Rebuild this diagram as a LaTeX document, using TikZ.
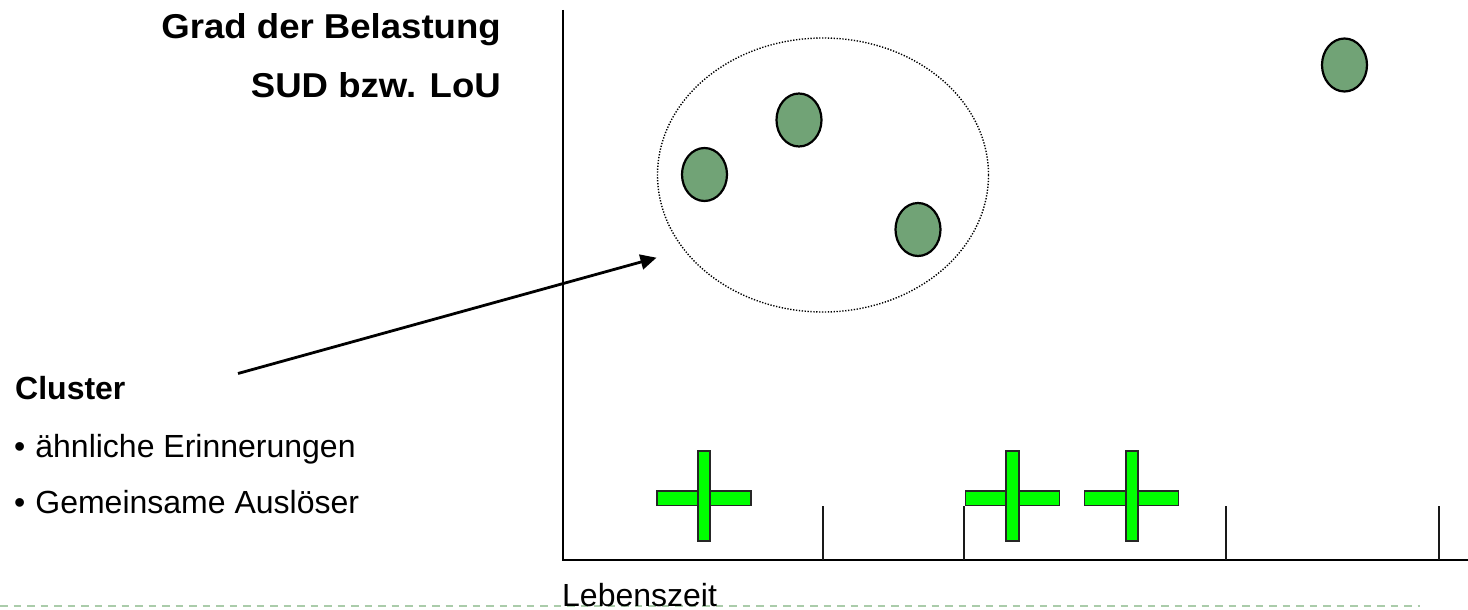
\documentclass[tikz,border=0pt]{standalone}
\usepackage{fontspec}
\setmainfont{Liberation Sans}
\usetikzlibrary{shapes.geometric,arrows.meta}

\definecolor{dotgreen}{RGB}{113,163,118}
\definecolor{crossgreen}{RGB}{0,255,0}
\definecolor{rulegreen}{RGB}{170,204,170}

\tikzset{
  txt/.style={inner sep=0pt, font=\fontsize{32}{38}\selectfont},
  boldtxt/.style={txt, font=\fontsize{32}{38}\selectfont\bfseries},
  headtxt/.style={inner sep=0pt, font=\fontsize{34.5}{40}\selectfont\bfseries},
  memory/.style={ellipse, draw=black, line width=2.2pt, fill=dotgreen,
    minimum width=45pt, minimum height=53pt, inner sep=0pt},
  hbar/.style={rectangle, draw=black!85, line width=1.8pt, fill=crossgreen,
    minimum width=94pt, minimum height=14.5pt, inner sep=0pt},
  vbar/.style={rectangle, draw=black!85, line width=1.8pt, fill=crossgreen,
    minimum width=12.5pt, minimum height=90pt, inner sep=0pt},
  axis/.style={line width=2.4pt, draw=black},
  tick/.style={line width=2.2pt, draw=black!90},
  group/.style={ellipse, draw=black, line width=1.4pt,
    dash pattern=on 1.3pt off 1.6pt, minimum width=331pt, minimum height=274pt,
    inner sep=0pt},
  pointer/.style={line width=2.8pt, -{Triangle[length=16pt,width=15pt]}},
  footrule/.style={line width=2.4pt, draw=rulegreen, dash pattern=on 7.5pt off 6pt},
}

\begin{document}
\begin{tikzpicture}[x=1pt,y=-1pt]
\useasboundingbox (0,0) rectangle (1468,610);

% footer rule and axis label
\coordinate (ruleL) at (0,606);
\coordinate (ruleR) at (1420,606);
\draw[footrule] (ruleL) -- (ruleR);

% axes
\coordinate (top) at (563,10);
\coordinate (origin) at (563,560);
\coordinate (right) at (1468,560);
\draw[axis] (top) -- (origin) -- (right);

% ticks on the time axis
\foreach \tx [count=\i] in {823,964,1226,1439}{
  \coordinate (tickTop\i) at (\tx,506);
  \coordinate (tickBot\i) at (\tx,560);
  \draw[tick] (tickTop\i) -- (tickBot\i);
}

% headings
\node[headtxt, anchor=base east] (belastung) at (501,39)
  {\scalebox{1.06}[1]{Grad der Belastung}};
\node[headtxt, anchor=base east] (sud) at (501,98)
  {\scalebox{1.06}[1]{SUD bzw. LoU}};

% cluster description
\node[boldtxt, anchor=base west] (cluster) at (15,399) {Cluster};
\node[txt, anchor=base west] (item1) at (14,457) {•\hspace{10pt}ähnliche Erinnerungen};
\node[txt, anchor=base west] (item2) at (14,513) {•\hspace{10pt}Gemeinsame Auslöser};

\node[txt, anchor=base west] (lebenszeit) at (562,606) {Lebenszeit};

% group of similar memories
\node[group] (groupring) at (823,175) {};
\node[memory] (m1) at (704.5,174.5) {};
\node[memory] (m2) at (799,120) {};
\node[memory] (m3) at (918,229.5) {};
\node[memory] (m4) at (1344.5,65) {};

% pointer from the description to the group
\coordinate (ptrStart) at (238,373.5);
\coordinate (ptrTip) at (656.5,257.7);
\draw[pointer] (ptrStart) -- (ptrTip);

% triggers on the time axis
\node[hbar] (h1) at (704,498.3) {};
\node[vbar] (v1) at (704,496) {};
\node[hbar] (h2) at (1012.5,498.3) {};
\node[vbar] (v2) at (1012.5,496) {};
\node[hbar] (h3) at (1131.5,498.3) {};
\node[vbar] (v3) at (1132,496) {};
\end{tikzpicture}
\end{document}
